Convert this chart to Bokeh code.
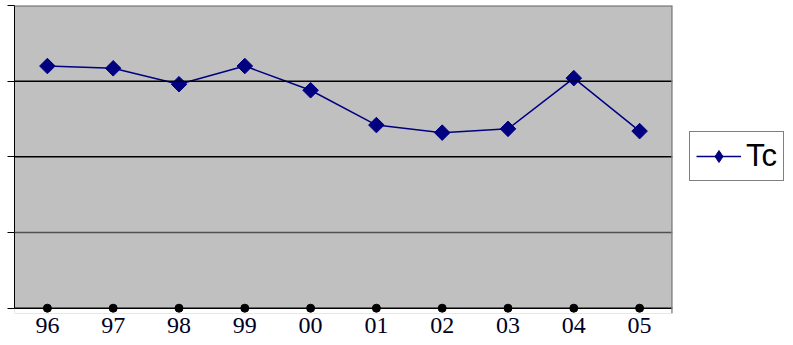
import math
from bokeh.plotting import figure
from bokeh.models import Legend, LegendItem, Span, FixedTicker, LinearAxis, BoxAnnotation
from bokeh.embed import file_html
from bokeh.resources import INLINE

years = ["96", "97", "98", "99", "00", "01", "02", "03", "04", "05"]
tc = [3.20, 3.17, 2.96, 3.20, 2.88, 2.42, 2.32, 2.37, 3.04, 2.34]
base = [0, 0, 0, 0, 0, 0, 0, 0, 0, 0]
y_ticks = [0, 1, 2, 3, 4]

p = figure(frame_width=658, frame_height=308, x_range=years, y_range=(-0.07, 4),
           output_backend="svg", toolbar_location=None,
           min_border_left=14, min_border_right=121, min_border_top=5,
           min_border_bottom=32, y_axis_location=None)
p.background_fill_color = "#C0C0C0"
p.border_fill_color = "white"
p.outline_line_color = None
p.xgrid.visible = False
p.ygrid.visible = False

# white strip below the zero line so the base dots are not clipped
p.add_layout(BoxAnnotation(top=0, fill_color="white", fill_alpha=1,
                           line_color=None, level="underlay"))

for v, c in [(1, "#505050"), (2, "black"), (3, "black")]:
    p.add_layout(Span(location=v, dimension="width", line_color=c, line_width=1.5))
p.add_layout(Span(location=0, dimension="width", line_color="black", line_width=1.5))
p.add_layout(Span(location=4, dimension="width", line_color="#808080", line_width=2.5))
p.add_layout(Span(location=len(years), dimension="height", line_color="#808080", line_width=2.5))

yax = LinearAxis(ticker=FixedTicker(ticks=y_ticks), bounds=(0, 4),
                 major_label_overrides={t: "" for t in y_ticks})
yax.major_tick_out = 7
yax.major_tick_in = 0
yax.minor_tick_out = 0
yax.minor_tick_in = 0
yax.major_label_standoff = 0
yax.axis_line_color = "black"
yax.major_tick_line_color = "black"
p.add_layout(yax, "left")

xa = p.xaxis[0]
xa.major_tick_out = 0
xa.major_tick_in = 0
xa.axis_line_color = None
xa.major_label_text_font = "Liberation Serif"
xa.major_label_text_font_size = "24px"
xa.major_label_text_color = "#000022"
xa.major_label_standoff = 4

p.scatter(years, base, marker="circle", size=8, color="black")
ln = p.line(years, tc, line_color="#000080", line_width=1.5)
p.scatter(years, tc, marker="square", size=11, angle=math.pi / 4, color="#000080")
# legend-only marker, placed outside the visible range
dm_leg = p.scatter(x=[years[0]], y=[100], marker="diamond", size=15, color="#000080")

legend = Legend(items=[LegendItem(label="Tc", renderers=[ln, dm_leg])],
                location=(17, 132))
legend.border_line_color = "black"
legend.border_line_width = 1
legend.background_fill_color = "white"
legend.background_fill_alpha = 1
legend.label_text_font = "Liberation Sans"
legend.label_text_font_size = "31px"
legend.label_text_color = "black"
legend.glyph_width = 45
legend.glyph_height = 30
legend.padding = 6
legend.margin = 0
legend.label_standoff = 5
legend.spacing = 0
p.add_layout(legend, "right")

open("out.html", "w").write(file_html(p, INLINE))
